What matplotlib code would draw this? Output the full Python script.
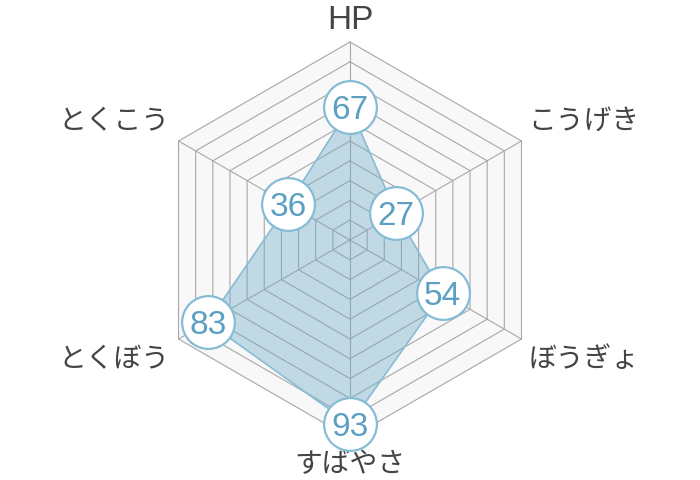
import numpy as np
import matplotlib
matplotlib.use("Agg")
import matplotlib.pyplot as plt

plt.rcParams["font.family"] = ["Liberation Sans", "Noto Sans CJK JP", "DejaVu Sans"]

labels = ["HP", "こうげき", "ぼうぎょ", "すばやさ", "とくぼう", "とくこう"]
values = [67, 27, 54, 93, 83, 36]
ring_steps = list(range(10, 101, 10))
max_value = 100

GRID = "#a8a8a8"
BG = "#f8f8f8"
FILL = "#6fa9c9"
EDGE = "#86bcd6"
NUM = "#5b9fc2"
TEXT = "#444444"

n = len(labels)
angles = np.deg2rad(90 - 60 * np.arange(n))
cosv, sinv = np.cos(angles), np.sin(angles)

fig = plt.figure(figsize=(7, 4.8), dpi=100)
ax = fig.add_axes([0, 0, 1, 1])
scale = 1.98  # pixels per unit
ax.set_xlim(-350 / scale, 350 / scale)
ax.set_ylim(-240 / scale, 240 / scale)
ax.set_aspect("equal")
ax.axis("off")

# background hexagon + rings + spokes
ax.fill(max_value * cosv, max_value * sinv, color=BG, zorder=0)
for r in ring_steps:
    ax.plot(np.append(r * cosv, r * cosv[0]), np.append(r * sinv, r * sinv[0]),
            color=GRID, lw=0.8, zorder=1)
for c, s in zip(cosv, sinv):
    ax.plot([0, max_value * c], [0, max_value * s], color=GRID, lw=0.8, zorder=1)

# data polygon
vals = np.array(values, dtype=float)
px, py = vals * cosv, vals * sinv
ax.fill(px, py, color=FILL, alpha=0.4, zorder=2, lw=0)
ax.plot(np.append(px, px[0]), np.append(py, py[0]), color=EDGE, lw=1.2, zorder=3)

# value bubbles
ax.plot(px, py, "o", ms=38, mfc="white", mec=EDGE, mew=1.6, zorder=4, ls="none")
for x, y, v in zip(px, py, values):
    ax.text(x, y, str(v), ha="center", va="center_baseline", fontsize=24,
            color=NUM, zorder=5)

# axis labels
label_pos = [
    (0, 103, "center", "bottom"),
    (90, 53, "left", "bottom"),
    (90, -54, "left", "top"),
    (0, -107, "center", "top"),
    (-91, -54, "right", "top"),
    (-91, 53, "right", "bottom"),
]
for lab, (x, y, ha, va) in zip(labels, label_pos):
    size = 24 if lab.isascii() else 20
    ax.text(x, y, lab, ha=ha, va=va, fontsize=size, color=TEXT, zorder=3.5)

fig.savefig("out.png", dpi=100)
